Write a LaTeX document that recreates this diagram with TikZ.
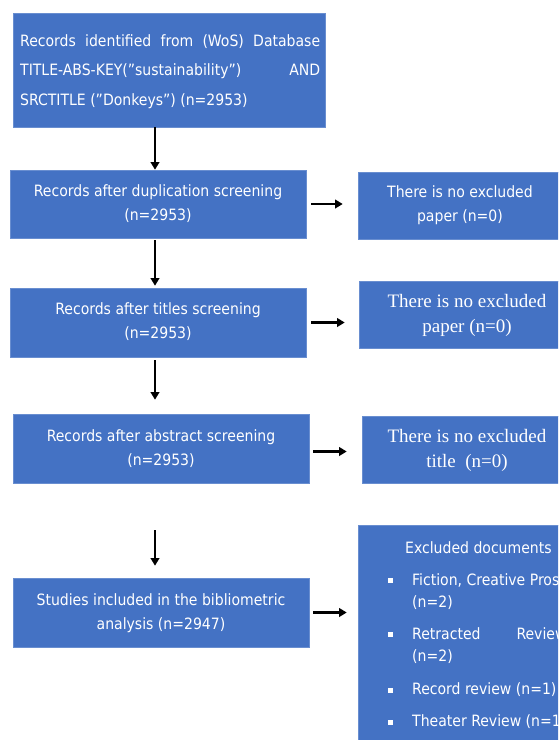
\documentclass[tikz,border=0pt]{standalone}
\usepackage{fontspec}
\setmainfont{DejaVu Sans Condensed}
\newfontfamily\serifx{Liberation Serif}
\usetikzlibrary{arrows.meta,calc}
\definecolor{boxblue}{RGB}{68,114,196}
\tikzset{
  bluebox/.style={draw=boxblue!80!white, line width=0.6pt, fill=boxblue, inner sep=0pt},
  txt/.style={text=white, font=\fontsize{15.6}{24}\selectfont, inner sep=0pt},
  stxt/.style={text=white, font=\serifx\fontsize{19}{25}\selectfont, inner sep=0pt},
  arr/.style={line width=2.5pt, -{Triangle[length=7.5pt,width=8.5pt]}},
}
\begin{document}
\begin{tikzpicture}[x=1pt,y=-1pt]
\useasboundingbox (0,0) rectangle (558,740);
\clip (0,0) rectangle (558,740);
\fill[white] (0,0) rectangle (558,740);
% left column boxes
\node[bluebox, minimum width=312pt, minimum height=114pt] (b1) at (169,70) {};
\node[bluebox, minimum width=296pt, minimum height=68pt] (b2) at (158,204) {};
\node[bluebox, minimum width=296pt, minimum height=69pt] (b3) at (158,322.5) {};
\node[bluebox, minimum width=296pt, minimum height=69pt] (b4) at (161,448.5) {};
\node[bluebox, minimum width=296pt, minimum height=69pt] (b5) at (161,612.5) {};
% right column boxes
\node[bluebox, minimum width=210pt, minimum height=67pt] (r2) at (463,205.5) {};
\node[bluebox, minimum width=210pt, minimum height=67pt] (r3) at (464,314.5) {};
\node[bluebox, minimum width=210pt, minimum height=67pt] (r4) at (467,449.5) {};
\node[bluebox, minimum width=210pt, minimum height=240pt] (r5) at (463,645) {};
% texts
\node[txt, anchor=west] (t1a) at (20,42) {\hbox to 300pt{Records identified from (WoS) Database}};
\node[txt, anchor=west] (t1b) at (20,71) {\hbox to 300pt{TITLE-ABS-KEY("sustainability”)\hfill AND}};
\node[txt, anchor=west] (t1c) at (20,101) {SRCTITLE ("Donkeys") (n=2953)};
\node[txt, align=center] (t2) at (158,204) {Records after duplication screening\\(n=2953)};
\node[txt, align=center] (t3) at (158,322) {Records after titles screening\\(n=2953)};
\node[txt, align=center] (t4) at (161,449) {Records after abstract screening\\(n=2953)};
\node[txt, align=center] (t5) at (161,613) {Studies included in the bibliometric\\analysis (n=2947)};
\node[txt, align=center] (tr2) at (460,205) {There is no excluded\\paper (n=0)};
\node[stxt, align=center] (tr3) at (467,315) {There is no excluded\\paper (n=0)};
\node[stxt, align=center] (tr4) at (467,450) {There is no excluded\\title\enspace(n=0)};
% excluded documents list
\node[txt, anchor=west] (e0) at (405,548) {Excluded documents};
\foreach \y/\t/\b in {580/{Fiction, Creative Prose}/1, 603/{(n=2)}/0, 634/{Retracted\hspace{36pt}Review}/1, 657/{(n=2)}/0, 690/{Record review (n=1)}/1, 722/{Theater Review (n=1)}/1}{
  \node[txt, anchor=west] at (412,\y) {\t};
  \ifnum\b=1 \fill[white] (387.5,\y-2.5) rectangle ++(5,5); \fi
}
% connectors
\coordinate (cx) at (155,0);
\draw[arr] (b1.south -| cx) -- (b2.north -| cx);
\draw[arr, shorten <=2pt] (b2.south -| cx) -- ($(b3.north -| cx)+(0,-2)$);
\draw[arr, shorten <=3pt, shorten >=14pt] (b3.south -| cx) -- (b4.north -| cx);
\draw[arr, shorten <=47pt, shorten >=12pt] (b4.south -| cx) -- (b5.north -| cx);
\draw[arr, shorten <=5pt, shorten >=15pt] (b2.east) -- (b2.east -| r2.west);
\draw[arr, shorten <=5pt, shorten >=14pt] (b3.east) -- (b3.east -| r3.west);
\draw[arr, shorten <=4pt, shorten >=15pt] ($(b4.east)+(0,3)$) -- ($(b4.east -| r4.west)+(0,3)$);
\draw[arr, shorten <=4pt, shorten >=11pt] (b5.east) -- (b5.east -| r5.west);
\end{tikzpicture}
\end{document}
